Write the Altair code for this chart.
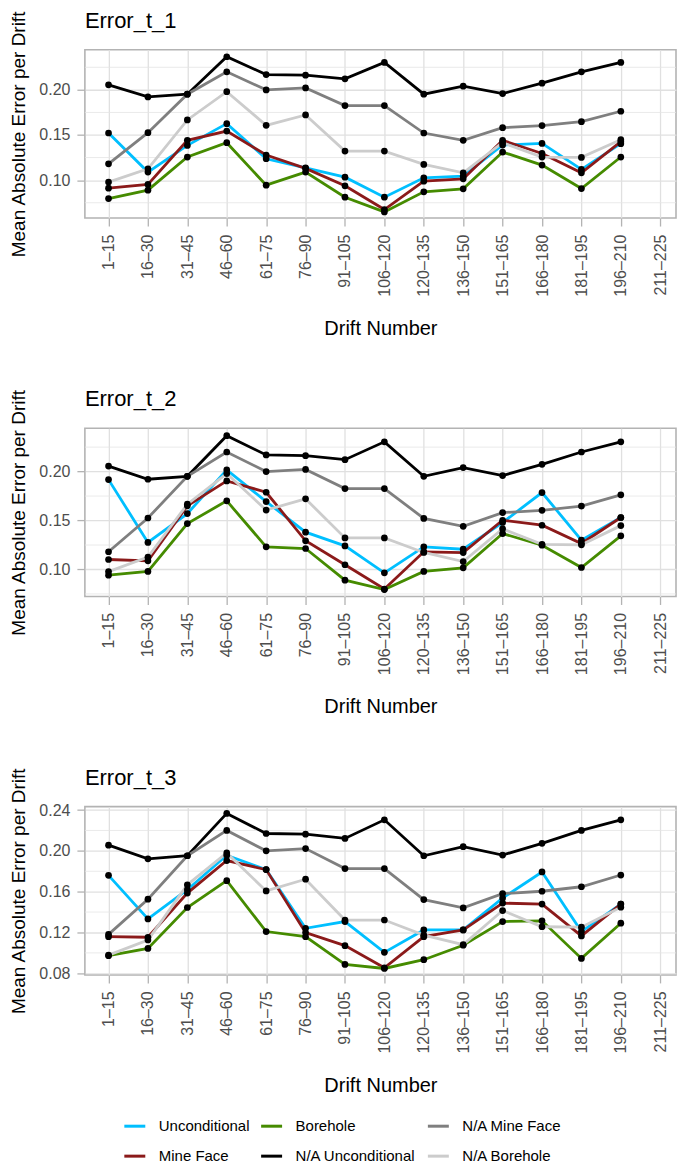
import altair as alt
import pandas as pd

categories = ["1–15", "16–30", "31–45", "46–60", "61–75", "76–90", "91–105",
              "106–120", "120–135", "136–150", "151–165", "166–180", "181–195",
              "196–210", "211–225"]

series_names = ["Unconditional", "Mine Face", "Borehole",
                "N/A Unconditional", "N/A Mine Face", "N/A Borehole"]
series_colors = ["#00BFFF", "#8B1A1A", "#458B00", "#000000", "#7F7F7F", "#CCCCCC"]
panel_titles = ["Error_t_1", "Error_t_2", "Error_t_3"]

# reference (N/A) series, identical in every panel
na_unconditional = [0.2056, 0.1922, 0.1952, 0.2367, 0.2170, 0.2163, 0.2122,
                    0.2304, 0.1952, 0.2041, 0.1959, 0.2074, 0.2200, 0.2304]
na_mine_face = [0.1181, 0.1526, 0.1952, 0.2200, 0.2000, 0.2022, 0.1826,
                0.1826, 0.1522, 0.1441, 0.1581, 0.1604, 0.1648, 0.1763]
na_borehole = [0.0978, 0.1126, 0.1667, 0.1980, 0.1607, 0.1722, 0.1322,
               0.1322, 0.1174, 0.1081, 0.1415, 0.1256, 0.1252, 0.1448]

t1_unconditional = [0.1522, 0.1089, 0.1385, 0.1626, 0.1237, 0.1137, 0.1033,
                    0.0811, 0.1026, 0.1044, 0.1389, 0.1407, 0.1119, 0.1404]
t1_mine_face = [0.0911, 0.0952, 0.1441, 0.1544, 0.1278, 0.1130, 0.0937,
                0.0674, 0.0989, 0.1015, 0.1441, 0.1296, 0.1081, 0.1426]
t1_borehole = [0.0796, 0.0889, 0.1256, 0.1415, 0.0944, 0.1089, 0.0811,
               0.0648, 0.0870, 0.0904, 0.1311, 0.1167, 0.0907, 0.1256]

t2_unconditional = [0.1918, 0.1276, 0.1571, 0.2017, 0.1694, 0.1381, 0.1241,
                    0.0966, 0.1231, 0.1207, 0.1480, 0.1786, 0.1299, 0.1531]
t2_mine_face = [0.1102, 0.1088, 0.1650, 0.1905, 0.1789, 0.1293, 0.1048,
                0.0800, 0.1180, 0.1173, 0.1503, 0.1452, 0.1265, 0.1531]
t2_borehole = [0.0942, 0.0980, 0.1469, 0.1701, 0.1231, 0.1214, 0.0891,
               0.0795, 0.0980, 0.1017, 0.1367, 0.1248, 0.1020, 0.1344]

t3_unconditional = [0.1760, 0.1333, 0.1619, 0.1957, 0.1816, 0.1241, 0.1307,
                    0.1005, 0.1225, 0.1225, 0.1537, 0.1793, 0.1209, 0.1478]
t3_mine_face = [0.1159, 0.1153, 0.1586, 0.1905, 0.1816, 0.1199, 0.1071,
                0.0854, 0.1159, 0.1225, 0.1488, 0.1478, 0.1166, 0.1478]
t3_borehole = [0.0972, 0.1044, 0.1445, 0.1708, 0.1209, 0.1159, 0.0887,
               0.0847, 0.0933, 0.1075, 0.1307, 0.1314, 0.0946, 0.1291]

panel_series = [
    [t1_unconditional, t1_mine_face, t1_borehole, na_unconditional, na_mine_face, na_borehole],
    [t2_unconditional, t2_mine_face, t2_borehole, na_unconditional, na_mine_face, na_borehole],
    [t3_unconditional, t3_mine_face, t3_borehole, na_unconditional, na_mine_face, na_borehole],
]

y_domains = [[0.058, 0.2444], [0.0724, 0.2443], [0.0784, 0.2433]]
y_major = [[0.10, 0.15, 0.20], [0.10, 0.15, 0.20], [0.08, 0.12, 0.16, 0.20, 0.24]]
y_minor = [[0.075, 0.125, 0.175, 0.225], [0.075, 0.125, 0.175, 0.225], [0.10, 0.14, 0.18, 0.22]]

FONT = "Liberation Sans"

color_scale = alt.Scale(domain=series_names, range=series_colors)
legend = alt.Legend(
    title=None, orient="none", legendX=38, legendY=1066, columns=3,
    symbolType="stroke", symbolStrokeWidth=3, symbolSize=441,
    labelFontSize=15, labelColor="black", labelFont=FONT, labelOffset=12,
    columnPadding=5, rowPadding=10, padding=0,
)


def make_panel(i):
    rows = []
    for name, vals in zip(series_names, panel_series[i]):
        for cat, v in zip(categories, vals):
            rows.append({"drift": cat, "value": v, "series": name})
    df = pd.DataFrame(rows)

    yscale = alt.Scale(domain=y_domains[i], nice=False, zero=False)
    yaxis = alt.Axis(values=y_major[i], format=".2f",
                     title="Mean Absolute Error per Drift",
                     titleFontSize=19,
                     titlePadding=10, labelPadding=7, grid=True)
    xenc = alt.X("drift:N", sort=categories,
                 scale=alt.Scale(type="point", domain=categories, padding=0.5, align=0.6),
                 axis=alt.Axis(title="Drift Number", labelAngle=270,
                               labelPadding=8, titlePadding=22, grid=True))

    minor = alt.Chart(pd.DataFrame({"v": y_minor[i]})).mark_rule(
        color="#E4E4E4", strokeWidth=0.8
    ).encode(y=alt.Y("v:Q", scale=yscale, axis=yaxis))

    lines = alt.Chart(df).mark_line(strokeWidth=2.8).encode(
        x=xenc,
        y=alt.Y("value:Q", scale=yscale, axis=yaxis),
        color=alt.Color("series:N", scale=color_scale, legend=legend),
    )
    points = alt.Chart(df).mark_circle(color="black", size=45, opacity=1).encode(
        x=xenc,
        y=alt.Y("value:Q", scale=yscale, axis=yaxis),
    )
    title = alt.Chart(pd.DataFrame({"t": [panel_titles[i]]})).mark_text(
        align="left", baseline="alphabetic", fontSize=22, font=FONT, color="black"
    ).encode(text="t:N", x=alt.value(0), y=alt.value(-22))

    return alt.layer(minor, lines, points, title).properties(width=592, height=168.5)


chart = alt.vconcat(
    make_panel(0), make_panel(1), make_panel(2), spacing=210, bounds="flush"
).properties(
    padding={"left": 1, "top": 0, "right": -1, "bottom": -2}
).configure(
    font=FONT
).configure_view(
    stroke="#B3B3B3", strokeWidth=1.6
).configure_axis(
    labelFont=FONT, labelFontSize=16, labelColor="#4D4D4D",
    tickColor="#B3B3B3", tickWidth=1.3, tickSize=8, domain=False,
    gridColor="#E0E0E0", gridWidth=1.3,
    titleFont=FONT, titleFontSize=20, titleFontWeight="normal", titleColor="black",
)

chart.save("out.html", embed_options={"renderer": "svg", "actions": False})
